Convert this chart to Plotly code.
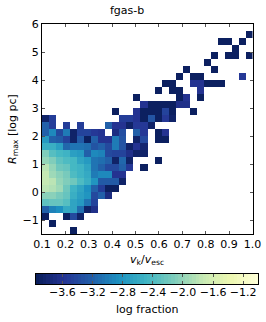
import plotly.graph_objects as go

N = None
x_edges = [round(0.1 + 0.03 * i, 2) for i in range(31)]
y_edges = [-1.5 + 0.25 * i for i in range(31)]
x_ticks = [0.1, 0.2, 0.3, 0.4, 0.5, 0.6, 0.7, 0.8, 0.9, 1.0]
y_ticks = [-1, 0, 1, 2, 3, 4, 5, 6]
cbar_ticks = [-3.6, -3.2, -2.8, -2.4, -2.0, -1.6, -1.2]
ZMIN, ZMAX = -3.95, -1.0
N_LEVELS = 64

row_00 = [N, N, N, N, -3.9]
row_01 = [N, -3.9]
row_02 = [-3.9, N, N, -3.9, -3.4, -3.85]
row_03 = [-3.2, -2.95, -2.85, -2.6, -2.65, -3.1, -3.85, -3.65]
row_04 = [-2.3, -2.25, -2.25, -2.35, -2.65, -2.75, -3.05, -3.45]
row_05 = [-2.05, -2.05, -2.15, -2.25, -2.55, -2.7, -2.8, -3.4, -3.2, -3.7]
row_06 = [-1.8, -1.85, -1.95, -2.2, -2.5, -2.65, -2.85, -3.2, -3.5, -3.9, -3.9]
row_07 = [-1.75, -1.8, -2.0, -2.1, -2.2, -2.4, -2.55, -2.8, -3.25, -3.25, -3.25, -3.85]
row_08 = [-1.75, -1.95, -2.05, -2.15, -2.4, -2.5, -2.6, -3.0, -2.9, -2.9, -3.6, -3.6]
row_09 = [-1.8, -2.0, -2.2, -2.25, -2.45, -2.5, -2.65, -3.05, -3.2, -3.4, -3.4, -3.2, -3.55, N, -3.9]
row_10 = [-2.0, -2.1, -2.3, -2.4, -2.45, -2.65, -2.75, -3.05, -3.1, -3.2, -3.85, -3.15, -3.85, N, N, N, -3.9]
row_11 = [-2.1, -2.35, -2.45, -2.5, -2.7, -2.75, -3.2, -2.9, -2.95, -3.4, -3.45, -3.45, -3.65, -3.85, -3.85]
row_12 = [-2.55, -2.55, -2.7, -3.15, -3.05, -3.05, -3.1, -3.3, -3.2, -3.4, -3.0, -3.3, -3.85, -3.6, -3.8]
row_13 = [-2.75, -3.2, -3.25, -3.45, -3.85, -3.25, -3.9, -3.2, -3.6, -3.6, -3.0, -3.3, N, -3.85, -3.4, N, -3.9, -3.9]
row_14 = [-3.2, -2.9, -3.4, -3.0, -3.85, -3.45, -3.45, -3.55, -3.6, N, -3.7, -3.35, N, -3.2, -3.55, N, -3.9, -3.6]
row_15 = [-3.2, -3.5, N, -3.5, N, -3.5, N, N, N, -3.2, -3.6, -3.6, -3.85, -3.55, -3.55, -3.85]
row_16 = [-3.85, -3.5, N, N, N, N, N, N, N, N, N, -3.5, -3.5, -3.6, -3.9, -3.3, -3.9, -3.55, -3.85]
row_17 = [N] * 10 + [-3.9, N, N, -3.6, -3.9, -3.9, -3.9, -3.45, -3.9, N, N, -3.9]
row_18 = [N] * 14 + [-3.6, -3.9, -3.9, -3.9, -3.9, -3.65, -3.65]
row_19 = [N] * 13 + [-3.9, N, N, N, N, N, -3.9, -3.6, N, -3.9]
row_20 = [N] * 16 + [-3.9, N, -3.9, -3.9, N, N, -3.6]
row_21 = [N] * 17 + [-3.9, -3.9, N, N, -3.6, -3.6, -3.9, -3.9, -3.9]
row_22 = [N] * 19 + [-3.9, N, -3.9, -3.9, N, N, N, N, N, -3.55]
row_23 = [N] * 20 + [-3.9, N, N, N, -3.9]
row_24 = [N] * 23 + [-3.9]
row_25 = [N] * 24 + [-3.9, N, -3.9, -3.9, N, -3.9]
row_26 = [N] * 27 + [-3.9]
row_27 = [N] * 25 + [-3.9, -3.9, N, -3.9]
row_28 = [N] * 29 + [-3.9]
row_29 = []

rows = [row_00, row_01, row_02, row_03, row_04, row_05, row_06, row_07, row_08, row_09,
        row_10, row_11, row_12, row_13, row_14, row_15, row_16, row_17, row_18, row_19,
        row_20, row_21, row_22, row_23, row_24, row_25, row_26, row_27, row_28, row_29]
z = [r + [N] * (30 - len(r)) for r in rows]

colorscale = [[0, "#081d58"], [0.125, "#253494"], [0.25, "#225ea8"], [0.375, "#1d91c0"],
              [0.5, "#41b6c4"], [0.625, "#7fcdbb"], [0.75, "#c7e9b4"], [0.875, "#edf8b1"],
              [1, "#ffffd9"]]

W, H = 266, 322
FONT = "DejaVu Sans"
TS = 11

step = (ZMAX - ZMIN) / N_LEVELS
cb_edges = [ZMIN + step * i for i in range(N_LEVELS + 1)]
cb_vals = [ZMIN + step * (i + 0.5) for i in range(N_LEVELS)]

fig = go.Figure()
fig.add_trace(go.Heatmap(x=x_edges, y=y_edges, z=z, zmin=ZMIN, zmax=ZMAX, colorscale=colorscale,
                         hoverongaps=False, showscale=False, xaxis="x", yaxis="y"))
fig.add_trace(go.Heatmap(x=cb_edges, y=[0, 1], z=[cb_vals], zmin=ZMIN, zmax=ZMAX, colorscale=colorscale,
                         showscale=False, xaxis="x2", yaxis="y2", hoverinfo="skip"))

tick_font = dict(family=FONT, size=TS, color="black")
axis_style = dict(showgrid=False, zeroline=False, showline=True, linecolor="black", linewidth=1,
                  mirror="ticks", ticks="inside", ticklen=3, tickcolor="#555", tickwidth=0.6,
                  tickfont=tick_font, automargin=False)


def label(text, px, py, angle=0):
    return dict(text=text, x=px / W, y=1 - py / H, xref="paper", yref="paper", showarrow=False,
                xanchor="center", yanchor="middle", textangle=angle, font=tick_font)


fig.update_layout(
    width=W, height=H, autosize=False,
    margin=dict(l=0, r=0, t=0, b=0, pad=0),
    paper_bgcolor="white", plot_bgcolor="white",
    annotations=[
        label("fgas-b", 127, 10.5),
        label("<i>v</i><sub>k</sub>/<i>v</i><sub>esc</sub>", 147, 260),
        label("<i>R</i><sub>max</sub> [log pc]", 13, 129, -90),
        label("log fraction", 147.5, 309),
    ],
    xaxis=dict(domain=[42 / W, 252.5 / W], range=[0.1, 1.0], anchor="y", tickmode="array",
               tickvals=x_ticks, ticktext=[f"{t:.1f}" for t in x_ticks], **axis_style),
    yaxis=dict(domain=[1 - 234 / H, 1 - 24 / H], range=[-1.5, 6], anchor="x", tickmode="array",
               tickvals=y_ticks, ticktext=[str(t).replace("-", "\u2212") for t in y_ticks], **axis_style),
    xaxis2=dict(domain=[36 / W, 258.3 / W], range=[ZMIN, ZMAX], anchor="y2", tickmode="array",
                tickvals=cbar_ticks, ticktext=[f"\u2212{abs(t):.1f}" for t in cbar_ticks],
                ticklabelstandoff=-2, **axis_style),
    yaxis2=dict(domain=[1 - 284 / H, 1 - 274 / H], range=[0, 1], anchor="x2", showticklabels=False,
                ticks="", showgrid=False, zeroline=False, showline=True, linecolor="black",
                linewidth=1, mirror=True),
)

fig.write_html("out.html", config={"displayModeBar": False},
               post_script="document.body.style.margin='0';document.documentElement.style.overflow='hidden';")
